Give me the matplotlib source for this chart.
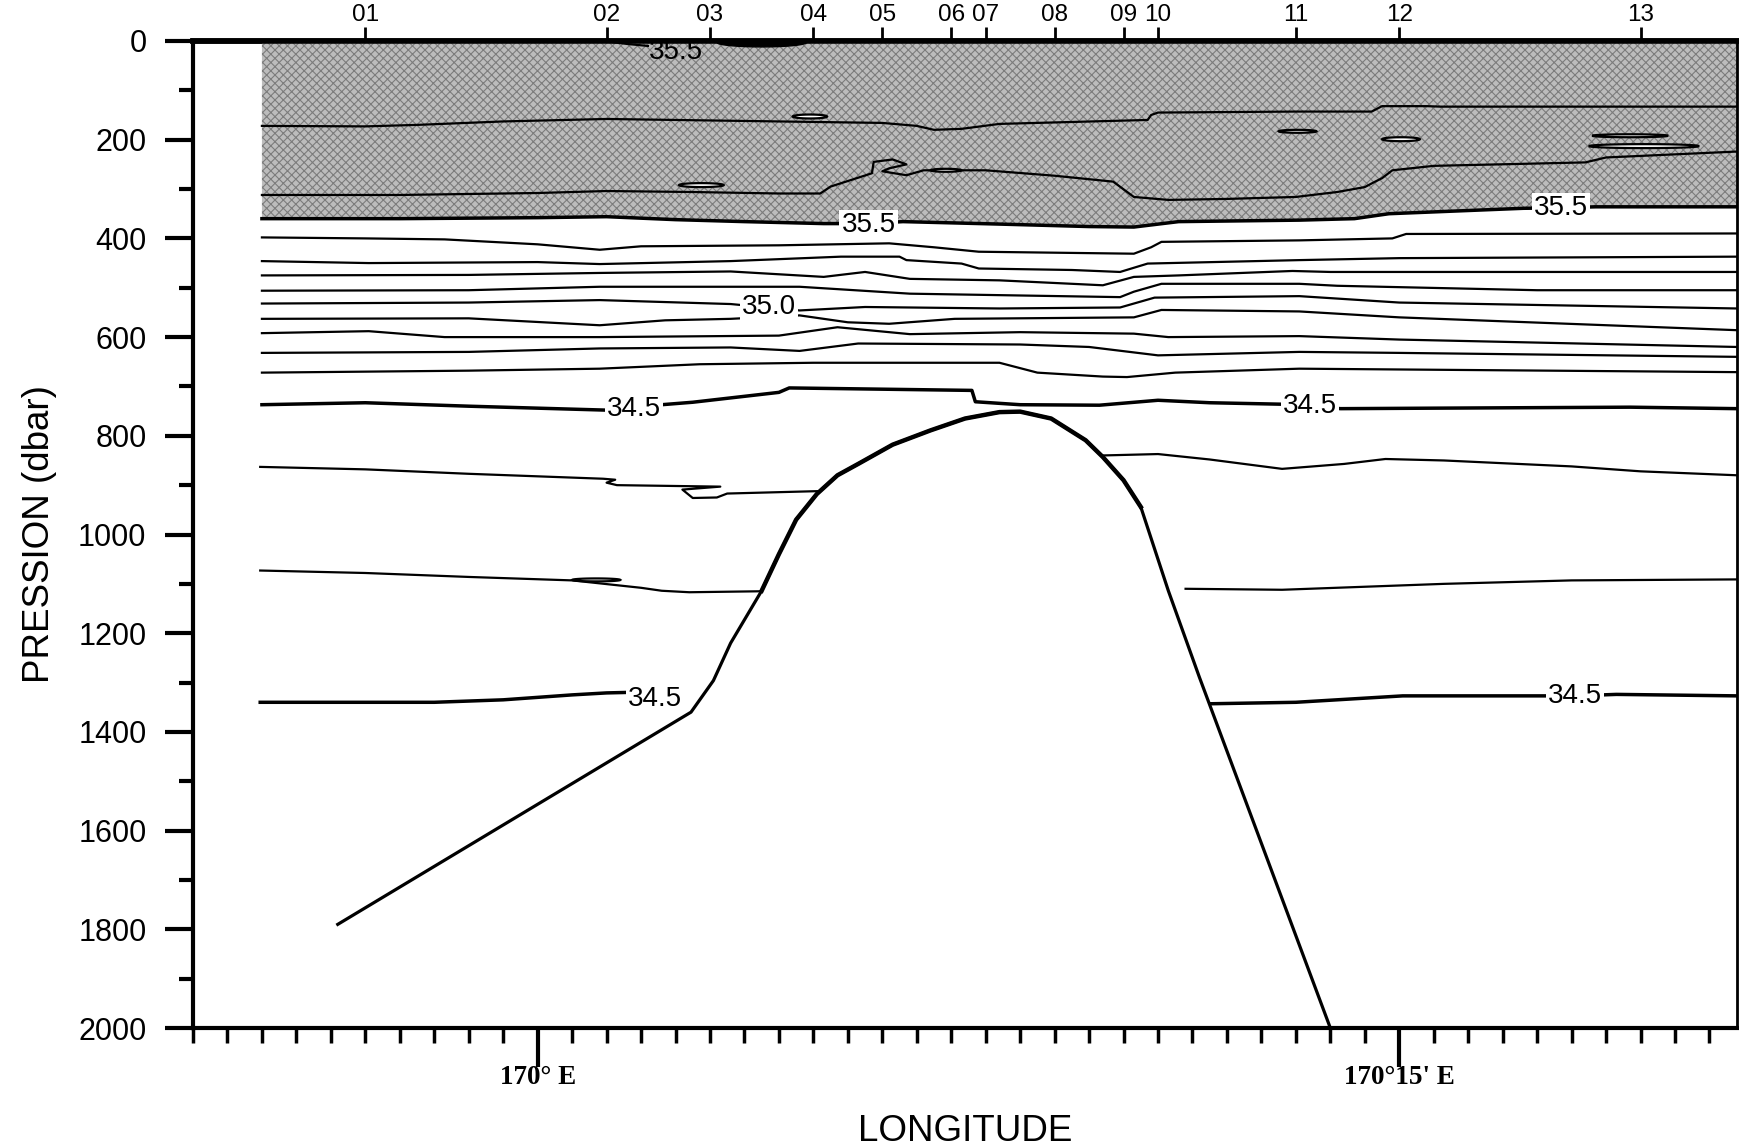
import numpy as np
import matplotlib
matplotlib.use("Agg")
from matplotlib import pyplot as plt
from matplotlib.ticker import MultipleLocator

plt.rcParams['font.family'] = ['Liberation Sans', 'DejaVu Sans']
plt.rcParams['hatch.linewidth'] = 0.8

# x in km along the section (170° E at km 10, 170°15' E at km 35)
station_km = [5, 12, 15, 18, 20, 22, 23, 25, 27, 28, 32, 35, 42]
station_labels = ['01', '02', '03', '04', '05', '06', '07', '08', '09', '10', '11', '12', '13']
lon_ticks = [10, 35]
lon_labels = ['170° E', "170°15' E"]

# sea floor (seamount)
bottom_x = [4.2, 14.45, 15.1, 15.6, 16.5, 17.0, 17.5, 18.1, 18.7, 19.3, 20.3, 21.4, 22.4,
            23.4, 24.0, 24.9, 25.9, 26.4, 27.0, 27.5, 28.3, 29.2, 33.0]
bottom_p = [1790, 1360, 1296, 1220, 1114, 1040, 970, 918, 880, 857, 818, 789, 765,
            752, 751, 765, 809, 843, 890, 944, 1114, 1289, 2000]

# 35.5 isohaline (lower limit of the shaded layer)
s355_x = [2, 6, 10, 12, 14, 16, 18.3, 19.6, 20.6, 23.4, 26.0, 27.3, 28.6, 32.1, 33.7,
          34.7, 38.6, 39.7, 40.7, 44.8]
s355_p = [360, 360, 358, 356, 362, 366, 370, 370, 366, 371, 376, 377, 366, 363, 360,
          350, 339, 338, 336, 336]

# contours inside the shaded layer
a_x = [2, 5, 6.5, 9, 12, 14, 17, 20, 21, 21.5, 22.3, 23.4, 27.7, 27.8, 28, 32, 34.2,
       34.5, 35.8, 36.2, 44.8]
a_p = [172, 173, 170, 163, 158, 160, 163, 166, 172, 180, 178, 168, 160, 150, 145, 143, 143,
       132, 132, 133, 133]
b_x = [2, 6, 10, 12, 14.5, 17, 18.2, 18.5, 19.7, 19.75, 20.3, 20.7, 20.2, 20.0, 20.7, 21.2,
       23, 25, 26.7, 27.3, 28.3, 30, 32, 33.2, 34.0, 34.3, 34.5, 34.8, 36, 40.4, 41.0, 44.8]
b_p = [312, 312, 308, 304, 306, 309, 309, 295, 268, 245, 240, 250, 258, 264, 272, 262,
       262, 273, 285, 316, 322, 320, 316, 306, 296, 285, 278, 262, 253, 246, 236, 224]

# contours between 35.5 and 34.5
c1_x = [2, 5, 7.3, 10, 11.8, 13, 17, 20.2, 21.5, 22.8, 27.3, 27.8, 28.1, 32.1, 34.8, 35.2, 44.8]
c1_p = [398, 400, 402, 412, 423, 416, 414, 410, 418, 427, 431, 418, 407, 404, 400, 391, 390]
c2_x = [2, 5.1, 10, 11.8, 15.6, 18.8, 20.5, 20.7, 22.3, 22.8, 25.5, 26.9, 27.7, 32.1, 35, 44.8]
c2_p = [446, 450, 448, 452, 446, 437, 437, 444, 451, 461, 464, 468, 451, 444, 440, 437]
c3_x = [2, 8, 11.8, 15.6, 18.3, 19.5, 20.8, 23.4, 26.4, 27.3, 28.6, 31.9, 33, 44.8]
c3_p = [475, 474, 470, 467, 478, 468, 482, 485, 495, 478, 475, 466, 468, 468]
c4_x = [2, 8, 11.8, 17.6, 20.8, 26.9, 27.3, 28.1, 32.1, 33.2, 39, 44.8]
c4_p = [506, 505, 498, 498, 512, 519, 508, 492, 492, 496, 505, 505]
c5_x = [2, 8, 11.8, 15.6, 17.6, 19.5, 23.4, 26.9, 27.9, 32.1, 35, 44.8]
c5_p = [532, 530, 525, 533, 546, 539, 542, 540, 520, 517, 530, 542]
c6_x = [2, 8, 11.8, 13.7, 15.6, 17.6, 19.0, 20.2, 22.1, 27.3, 28.1, 32.1, 35, 44.8]
c6_p = [563, 562, 576, 566, 563, 556, 570, 573, 563, 560, 545, 548, 560, 586]
c7_x = [2, 5.1, 7.3, 11.8, 17.0, 18.7, 20.8, 24, 27.3, 28.3, 32.1, 35, 44.8]
c7_p = [592, 588, 600, 600, 597, 580, 594, 590, 593, 600, 598, 605, 620]
c8_x = [2, 8, 11.8, 15.6, 17.6, 19.3, 24, 26, 28.0, 32.1, 35, 44.8]
c8_p = [632, 630, 623, 621, 628, 613, 615, 620, 637, 630, 632, 640]
c9_x = [2, 8, 11.8, 14.7, 18, 23.4, 24.5, 26.4, 27.1, 28.5, 32.1, 44.8]
c9_p = [672, 668, 664, 655, 652, 652, 672, 680, 681, 672, 664, 671]

# 34.5 (upper)
u345_x = [2, 5, 8, 12.0, 12.8, 13.6, 14.5, 17.0, 17.3, 22.6, 22.7, 24, 26.3, 28.0, 29.5,
          31.6, 32.4, 33.3, 36, 41.7, 44.8]
u345_p = [737, 733, 740, 748, 746, 737, 732, 712, 703, 708, 731, 737, 738, 728, 733,
          736, 740, 745, 744, 742, 745]

# deep contours, west and east of the seamount
d1w_x = [1.95, 5, 8, 11.9, 12.25, 12.0, 12.3, 15.3, 14.2, 14.5, 15.2, 15.5, 18.2]
d1w_p = [863, 868, 877, 887, 889, 895, 900, 903, 909, 926, 925, 917, 912]
d1e_x = [26.3, 28.0, 29.5, 31.6, 33.4, 34.6, 36.3, 40, 42, 44.8]
d1e_p = [840, 837, 848, 867, 857, 847, 850, 862, 872, 880]
d2w_x = [1.95, 5, 8, 11.0, 13.0, 13.6, 14.4, 16.5]
d2w_p = [1073, 1078, 1086, 1093, 1108, 1114, 1117, 1115]
d2e_x = [28.8, 31.6, 36.3, 40, 44.8]
d2e_p = [1110, 1112, 1100, 1093, 1091]
d3w_x = [1.95, 7, 9, 11, 12.0, 12.6]
d3w_p = [1340, 1340, 1335, 1325, 1321, 1320]
d3e_x = [29.5, 32, 35.1, 39.0, 40.1, 41.3, 44.8]
d3e_p = [1343, 1340, 1327, 1327, 1327, 1324, 1327]

# small closed lenses: start, end, centre pressure, half thickness
lens_x0 = [17.4, 14.1, 21.4, 31.5, 34.5, 40.6, 40.5, 11.0]
lens_x1 = [18.4, 15.4, 22.3, 32.6, 35.6, 42.8, 43.7, 12.4]
lens_p = [153, 292, 262, 183, 199, 192, 213, 1092]
lens_h = [4, 4, 3, 3, 4, 3, 4, 3]

# contour labels
lab_x = [19.6, 39.7, 16.7, 12.8, 32.4, 13.4, 40.1]
lab_p = [372, 338, 539, 745, 740, 1334, 1327]
lab_txt = ['35.5', '35.5', '35.0', '34.5', '34.5', '34.5', '34.5']


fig = plt.figure(figsize=(17.39, 11.48), dpi=100)
ax = fig.add_axes([193 / 1739, 120 / 1148, 1544 / 1739, 987 / 1148])
ax.set_xlim(0, 44.8)
ax.set_ylim(2000, 0)

# shaded layer above 35.5
ax.fill_between(s355_x, 3, s355_p, facecolor='#bcbcbc', edgecolor='#7c7c7c',
                hatch='xxxx', linewidth=0, zorder=1)

thin = 1.6
thick = 2.5
for xs, ps in [(a_x, a_p), (b_x, b_p), (c1_x, c1_p), (c2_x, c2_p), (c3_x, c3_p),
               (c4_x, c4_p), (c5_x, c5_p), (c6_x, c6_p), (c7_x, c7_p), (c8_x, c8_p),
               (c9_x, c9_p), (d1w_x, d1w_p), (d1e_x, d1e_p), (d2w_x, d2w_p), (d2e_x, d2e_p)]:
    ax.plot(xs, ps, color='black', lw=thin, zorder=2)
for xs, ps in [(s355_x, s355_p), (u345_x, u345_p), (d3w_x, d3w_p), (d3e_x, d3e_p)]:
    ax.plot(xs, ps, color='black', lw=thick, zorder=2)

for x0, x1, p, h in zip(lens_x0, lens_x1, lens_p, lens_h):
    t = np.linspace(0, np.pi, 20)
    xx = x0 + (x1 - x0) * (1 - np.cos(t)) / 2
    top = p - h * np.sin(t)
    bot = p + h * np.sin(t)
    ax.fill(np.concatenate([xx, xx[::-1]]), np.concatenate([top, bot[::-1]]),
            facecolor='white', edgecolor='black', lw=1.6, zorder=2)

# near-surface 35.5 patch between stations 02 and 04
ax.plot([11.9, 12.6, 13.2], [0, 6, 10], color='black', lw=thin, zorder=2)
t = np.linspace(0, np.pi, 20)
xx = 15.2 + 2.6 * (1 - np.cos(t)) / 2
ax.fill(np.concatenate([xx, xx[::-1]]), np.concatenate([0 * t + 3, (3 + 9 * np.sin(t))[::-1]]),
        facecolor='black', edgecolor='black', lw=1, zorder=2)
ax.text(14.0, 36, '35.5', fontsize=20, ha='center', va='baseline', zorder=2, clip_on=True)

for x, p, s in zip(lab_x, lab_p, lab_txt):
    ax.text(x, p, s, fontsize=20, ha='center', va='center', zorder=3,
            bbox=dict(facecolor='white', edgecolor='none', pad=1.5))

# seamount
ax.fill(bottom_x + [33.0, 4.2], bottom_p + [2000, 2000], facecolor='white',
        edgecolor='none', zorder=4)
ax.plot(bottom_x, bottom_p, color='black', lw=2.3, zorder=5)
ax.plot(bottom_x[4:20], bottom_p[4:20], color='black', lw=3.2, zorder=5)

# axes styling
for side, w in [('left', 3), ('bottom', 3), ('top', 4), ('right', 2)]:
    ax.spines[side].set_linewidth(w)
    ax.spines[side].set_zorder(10)

ax.set_yticks(range(0, 2001, 200))
ax.yaxis.set_minor_locator(MultipleLocator(100))
ax.tick_params(axis='y', which='major', length=20, width=3, pad=13.5, labelsize=22)
ax.tick_params(axis='y', which='minor', length=10, width=3)

ax.set_xticks(lon_ticks, labels=lon_labels)
for lab in ax.get_xticklabels():
    lab.set_fontfamily('Liberation Serif')
    lab.set_fontweight('bold')
ax.xaxis.set_minor_locator(MultipleLocator(1))
ax.tick_params(axis='x', which='major', length=28, width=3, pad=-1, labelsize=19.5)
ax.tick_params(axis='x', which='minor', length=11, width=2.5)

sec = ax.secondary_xaxis('top')
sec.set_xticks(station_km, labels=station_labels)
sec.tick_params(length=10, width=2, pad=0.5, labelsize=17.5)
sec.spines['top'].set_linewidth(4)

ax.set_xlabel('LONGITUDE', fontsize=26.5)
ax.xaxis.set_label_coords(0.5, -0.087)
ax.set_ylabel('PRESSION (dbar)', fontsize=26.5)
ax.yaxis.set_label_coords(-0.088, 0.5)

fig.savefig('out.png', dpi=100)
